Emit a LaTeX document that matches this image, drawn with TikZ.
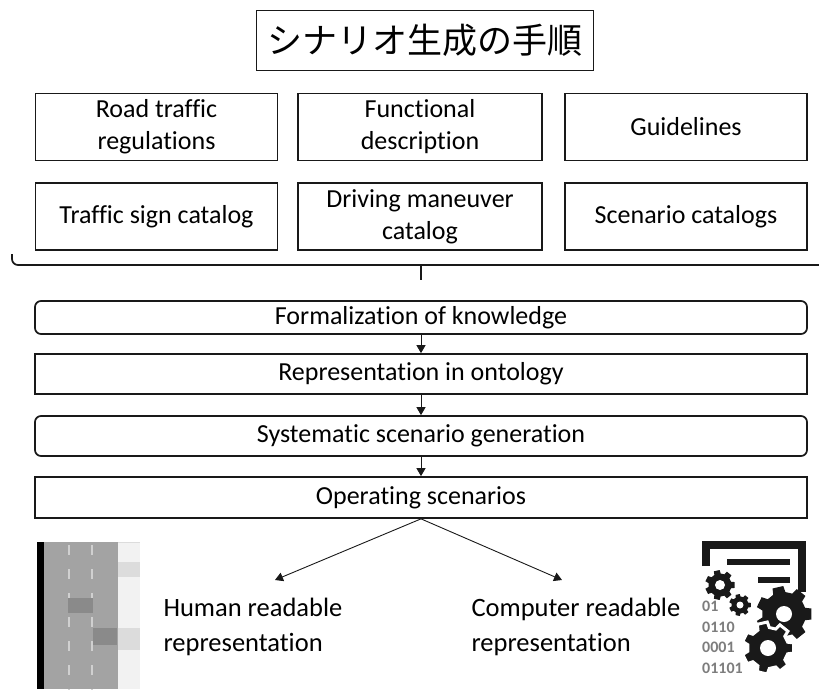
\documentclass[tikz,border=0pt]{standalone}
\usepackage{fontspec}
\setmainfont{Carlito}[RawFeature=-liga]
\newfontfamily\jpfont{Noto Sans CJK JP}
\usepackage{xcolor}
\usepackage{tikz}
\usetikzlibrary{arrows.meta, positioning, calc}
\definecolor{mydark}{RGB}{25,25,25}
\definecolor{myroad}{RGB}{163,163,163}
\definecolor{mycar}{RGB}{138,138,138}
\definecolor{mymark}{RGB}{208,208,208}
\definecolor{myside}{RGB}{242,242,242}
\definecolor{mypatch}{RGB}{220,220,220}
\definecolor{mybits}{RGB}{125,125,125}
\tikzset{
  block/.style={rectangle, draw=mydark, line width=1.7pt,
    minimum width=242pt, minimum height=67pt, align=center,
    font=\fontsize{26}{32}\selectfont, inner sep=2pt},
  stepblock/.style={rectangle, draw=mydark, line width=1.7pt,
    minimum width=772pt, minimum height=40pt, inner sep=0pt,
    font=\fontsize{26}{32}\selectfont},
  roundstep/.style={stepblock, rounded corners=6pt},
  arrow/.style={-{Triangle[length=8pt,width=9pt]}, line width=0.9pt, color=mydark},
  line/.style={line width=1.7pt, color=mydark},
  outtext/.style={anchor=west, align=left, font=\fontsize{26.5}{35}\selectfont},
  bits/.style={anchor=north west, align=left, inner sep=0pt, color=mybits,
    font=\fontsize{16}{20.5}\selectfont\bfseries}
}
% gear: centre, teeth, outer radius, root radius, hole radius
\newcommand{\cog}[6][]{%
  \pgfmathsetmacro\cogstep{360/#3}
  \fill[mydark, #1, shift={(#2)}] (0.32*\cogstep:#5)
    \foreach \k [evaluate=\k as \a using \k*\cogstep] in {1,...,#3} {
      -- (\a-0.32*\cogstep:#5) -- (\a-0.22*\cogstep:#4)
      -- (\a+0.22*\cogstep:#4) -- (\a+0.32*\cogstep:#5)
    } -- cycle;
  \fill[white, shift={(#2)}] (0,0) circle (#6pt);
}

\begin{document}
\begin{tikzpicture}[x=1pt, y=-1pt]
  \useasboundingbox (0,0) rectangle (819,689);

  % Title
  \node[draw=mydark, line width=0.8pt, minimum width=337pt, minimum height=60pt,
    font=\jpfont\fontsize{35}{40}\selectfont] (title) at (425,40) {シナリオ生成の手順};

  % Knowledge sources
  \node[block] (regs) at (156.5,127) {Road traffic\\regulations};
  \node[block, minimum width=244pt] (func) at (420,127) {Functional\\description};
  \node[block] (guide) at (686,127) {Guidelines};
  \node[block] (signs) at (156.5,216.5) {Traffic sign catalog};
  \node[block, minimum width=244pt] (manv) at (420,216.5) {Driving maneuver\\catalog};
  \node[block] (scat) at (686,216.5) {Scenario catalogs};

  % Bracket under the sources
  \draw[line, rounded corners=6pt] (12,254) -- (12,265) -- (819,265);
  \coordinate (brace) at (421,265);
  \draw[line] (brace) -- ++(0,15);

  % Process steps
  \node[roundstep, minimum height=33pt] (formal) at (421,317.5) {Formalization of knowledge};
  \node[stepblock] (repr) at (421,374) {Representation in ontology};
  \node[roundstep] (syst) at (421,436) {Systematic scenario generation};
  \node[stepblock, minimum height=41pt] (oper) at (421,497.5) {Operating scenarios};

  \draw[arrow] (formal) -- (repr);
  \draw[arrow] (repr) -- (syst);
  \draw[arrow] (syst) -- (oper);

  % Outputs
  \coordinate (humanTip) at (275,580);
  \coordinate (compTip) at (562,580);
  \draw[arrow] (oper.south) -- (humanTip);
  \draw[arrow] (oper.south) -- (compTip);
  \node[outtext] (human) at (160,627) {Human readable\\representation};
  \node[outtext] (comp) at (468,627) {Computer readable\\representation};

  % Road sketch
  \fill[myroad] (44,542) rectangle (118,689);
  \fill[black] (37,542) rectangle (44,689);
  \fill[myside] (118,542) rectangle (140,689);
  \draw[mypatch, line width=1pt] (118,542) -- (140,542);
  \fill[mypatch] (118,562) rectangle (140,577);
  \fill[mypatch] (118,628) rectangle (140,650);
  \foreach \y in {545,569,...,689} {
    \draw[mymark, line width=2pt] (69,\y) -- ++(0,10);
    \draw[mymark, line width=2pt] (92,\y) -- ++(0,10);
  }
  \fill[mycar] (68,598) rectangle (93,613);
  \fill[mycar] (93,628) rectangle (117,645);

  % Document with gears
  \draw[mydark, line width=8pt] (706,566) -- (706,545) -- (802,545) -- (802,592);
  \draw[mydark, line width=6pt] (727,562) -- (790,562);
  \draw[mydark, line width=6pt] (758,580) -- (790,580);
  \cog{720,585}{7}{15}{11.5}{5}
  \cog{740,605}{7}{11}{8.5}{3.5}
  \cog{784,614}{7}{28}{22}{8}
  \cog[draw=white, line width=3pt]{768,648}{7}{26}{20.5}{8}
  \node[bits] (code) at (702,601) {01\\0110\\0001\\01101};
\end{tikzpicture}
\end{document}
